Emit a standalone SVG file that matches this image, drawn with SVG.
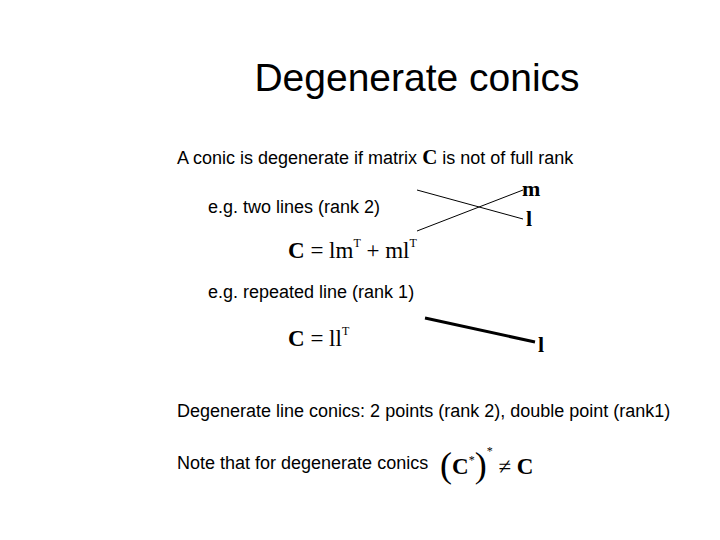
<svg xmlns="http://www.w3.org/2000/svg" width="720" height="540" viewBox="0 0 720 540">
<style>
.s{font-family:"Liberation Sans",Arial,sans-serif;font-size:18px;fill:#000}
.m{font-family:"Liberation Serif","Times New Roman",serif;fill:#000}
.b{font-weight:bold}
</style>
<rect width="720" height="540" fill="#fff"/>
<text x="417" y="91" text-anchor="middle" font-family="Liberation Sans,Arial,sans-serif" font-size="39" fill="#000">Degenerate conics</text>
<text class="s" x="177" y="164">A conic is degenerate if matrix <tspan class="m b" font-size="21">C</tspan> is not of full rank</text>
<text class="s" x="208" y="213">e.g. two lines (rank 2)</text>
<text class="m" x="288" y="258" font-size="23"><tspan class="b">C</tspan> = lm<tspan font-size="12" dy="-11">T</tspan><tspan dy="11"> + </tspan>ml<tspan font-size="12" dy="-11">T</tspan></text>
<text class="s" x="208" y="298">e.g. repeated line (rank 1)</text>
<text class="m" x="288" y="346" font-size="23"><tspan class="b">C</tspan> = ll<tspan font-size="12" dy="-11">T</tspan></text>
<g id="connectors" stroke="#000">
<line x1="417" y1="190" x2="523" y2="219" stroke-width="1"/>
<line x1="417" y1="231" x2="523" y2="190" stroke-width="1"/>
<line x1="425" y1="318" x2="535" y2="342" stroke-width="3"/>
</g>
<text class="m b" x="522" y="196" font-size="22">m</text>
<text class="m b" x="526" y="226" font-size="22">l</text>
<text class="m b" x="538" y="352" font-size="22">l</text>
<text class="s" x="177" y="417">Degenerate line conics: 2 points (rank 2), double point (rank1)</text>
<text class="s" x="177" y="469">Note that for degenerate conics</text>
<text class="m" x="440" y="474" font-size="23"><tspan font-size="36" dy="3">(</tspan><tspan class="b" dy="-3">C</tspan><tspan font-size="12" dy="-10">*</tspan><tspan font-size="36" dy="13">)</tspan><tspan font-size="12" dy="-22">*</tspan><tspan dy="19"> ≠ </tspan><tspan class="b">C</tspan></text>
</svg>
